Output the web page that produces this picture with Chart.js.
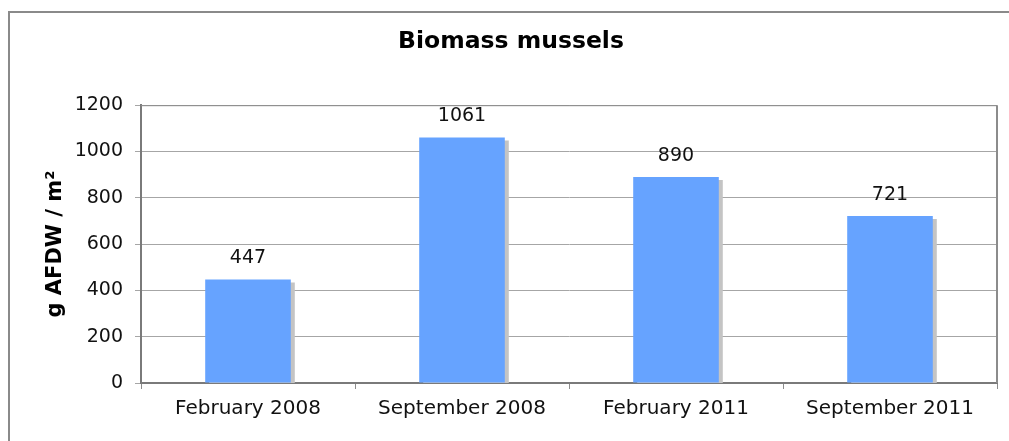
<!DOCTYPE html>
<html>
<head>
<meta charset="utf-8">
<script src="https://cdn.jsdelivr.net/npm/chart.js@4"></script>
<style>
    html, body { margin: 0; padding: 0; background: #fff; overflow: hidden; }
    #wrap { position: relative; width: 1009px; height: 441px; overflow: hidden; }
    #frame { position: absolute; left: 8px; top: 11px; width: 1100px; height: 460px; border: 2px solid #8a8a8a; border-right: none; box-sizing: border-box; }
    canvas { position: absolute; left: 0; top: 0; }
</style>
</head>
<body>
<div id="wrap">
    <div id="frame"></div>
    <canvas id="chart" width="1009" height="441"></canvas>
</div>
<script>
// Biomass mussels - bar chart

const categories = ['February 2008', 'September 2008', 'February 2011', 'September 2011'];
const biomass = [447, 1061, 890, 721];
const yTicks = [0, 200, 400, 600, 800, 1000, 1200];

const FONT = "'DejaVu Sans', Verdana, sans-serif";

// Grey drop shadow behind the bars
const barShadow = {
    id: 'barShadow',
    beforeDatasetsDraw(chart) {
        const ctx = chart.ctx;
        ctx.save();
        ctx.shadowColor = '#c4c4c4';
        ctx.shadowOffsetX = 4;
        ctx.shadowOffsetY = 3;
        ctx.shadowBlur = 0;
    },
    afterDatasetsDraw(chart) {
        chart.ctx.restore();
    }
};

// Plot frame + value labels above bars
const plotFrame = {
    id: 'plotFrame',
    afterDatasetsDraw(chart) {
        const ctx = chart.ctx;
        const a = chart.chartArea;
        ctx.save();
        ctx.strokeStyle = '#8c8c8c';
        ctx.lineWidth = 1;
        ctx.beginPath();
        ctx.moveTo(a.left, a.top + 0.5);
        ctx.lineTo(a.right, a.top + 0.5);
        ctx.stroke();
        ctx.lineWidth = 2;
        ctx.beginPath();
        ctx.moveTo(a.right, a.top);
        ctx.lineTo(a.right, a.bottom);
        ctx.stroke();

        ctx.fillStyle = '#111';
        ctx.font = '19px ' + FONT;
        ctx.textAlign = 'center';
        ctx.textBaseline = 'middle';
        chart.getDatasetMeta(0).data.forEach((bar, i) => {
            ctx.fillText(String(biomass[i]), bar.x, bar.y - 21);
        });
        ctx.restore();
    }
};

new Chart(document.getElementById('chart'), {
    type: 'bar',
    data: {
        labels: categories,
        datasets: [{
            data: biomass,
            backgroundColor: '#66a3ff',
            borderWidth: 0,
            barPercentage: 0.4,
            categoryPercentage: 1.0
        }]
    },
    options: {
        responsive: false,
        animation: false,
        events: [],
        layout: { padding: { left: 25, right: 12, top: 0, bottom: 0 } },
        plugins: {
            legend: { display: false },
            tooltip: { enabled: false },
            title: {
                display: true,
                text: 'Biomass mussels',
                color: '#000',
                font: { family: FONT, size: 23.5, weight: 'bold', lineHeight: 1.2 },
                padding: { top: 28, bottom: 49 }
            }
        },
        scales: {
            x: {
                offset: true,
                grid: {
                    offset: true,
                    drawOnChartArea: false,
                    drawTicks: true,
                    tickLength: 6,
                    color: '#8c8c8c'
                },
                border: { color: '#7a7a7a', width: 2 },
                ticks: {
                    color: '#111',
                    font: { family: FONT, size: 20 },
                    padding: 8,
                    maxRotation: 0
                },
                afterFit(scale) { scale.height = 58; }
            },
            y: {
                min: 0,
                max: 1200,
                afterBuildTicks(scale) { scale.ticks = yTicks.map(v => ({ value: v })); },
                grid: {
                    color: '#a6a6a6',
                    tickLength: 6,
                    drawTicks: true
                },
                border: { color: '#7a7a7a', width: 2 },
                ticks: {
                    color: '#111',
                    font: { family: FONT, size: 19 },
                    padding: 12,
                    callback: v => String(v)
                },
                title: {
                    display: true,
                    text: 'g AFDW / m²',
                    color: '#000',
                    font: { family: FONT, size: 21, weight: 'bold', lineHeight: 1.2 },
                    padding: { top: 18, bottom: 0 }
                },
                afterFit(scale) { scale.width = 116; }
            }
        }
    },
    plugins: [barShadow, plotFrame]
});
</script>
</body>
</html>
